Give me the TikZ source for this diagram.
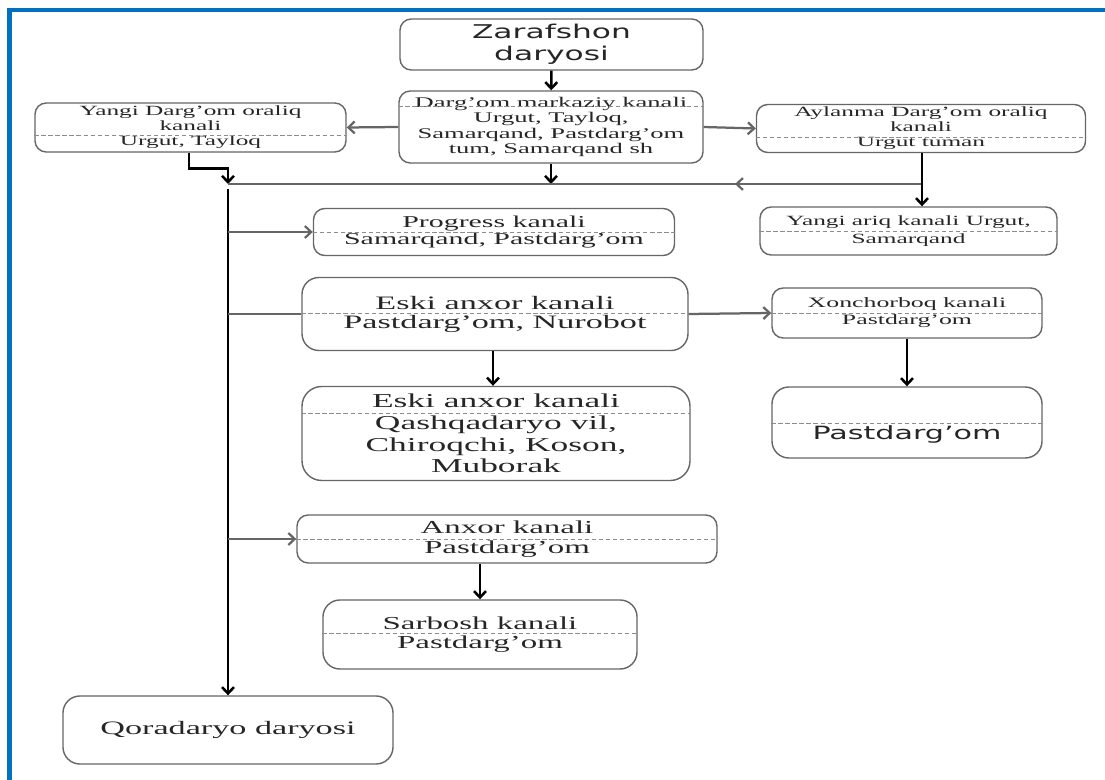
\documentclass[tikz,border=0pt]{standalone}
\usepackage{fontspec}
\setmainfont{Liberation Serif}[FakeStretch=1.8]
\newfontfamily\sansf{DejaVu Sans}[FakeStretch=1.65]
\usetikzlibrary{arrows.meta}
\definecolor{frameblue}{RGB}{0,112,192}
\tikzset{bx/.append style={draw=black!60,line width=1pt,rounded corners=8pt,align=center,text=black!85,inner sep=0pt}}
\tikzset{sz/.style 2 args={minimum width=#1*0.025cm,minimum height=#2*0.025cm}}
\tikzset{sep/.append style={draw=black!45,dashed,dash pattern=on 3pt off 2pt,line width=0.6pt}}
\tikzset{vl/.append style={draw=black,line width=1.8pt}}
\tikzset{hl/.append style={draw=black!60,line width=1.6pt}}
\tikzset{>={Straight Barb[length=4.5pt,width=8.5pt]}}

\begin{document}
\begin{tikzpicture}[x=0.025cm,y=-0.025cm]
                \useasboundingbox (0,0) rectangle (1105,780);
                \draw[frameblue,line width=3.5pt] (9.5,780) -- (9.5,10) -- (1105,10);
                % boxes
                \node[bx,sz={303}{51},font=\sansf\fontsize{13.5}{16}\selectfont] (zar) at (551.5,44.5) {Zarafshon\\daryosi};
                \node[bx,sz={304}{72},font=\fontsize{10.5}{11}\selectfont] (dmk) at (551,127) {Darg’om markaziy kanali\\Urgut, Tayloq,\\Samarqand, Pastdarg’om\\tum, Samarqand sh};
                \node[bx,sz={311}{49},font=\fontsize{10}{10.6}\selectfont] (ydo) at (190.5,127.5) {Yangi Darg’om oraliq\\kanali\\Urgut, Tayloq};
                \node[bx,sz={329}{48},font=\fontsize{10}{10.6}\selectfont] (ado) at (921,128.5) {Aylanma Darg’om oraliq\\kanali\\Urgut tuman};
                \node[bx,sz={297}{48},font=\fontsize{10}{12.8}\selectfont] (yak) at (908.5,231) {Yangi ariq kanali Urgut,\\Samarqand};
                \node[bx,sz={361}{47},font=\fontsize{11.8}{12}\selectfont] (prg) at (494,232) {Progress kanali\\Samarqand, Pastdarg’om};
                \node[bx,sz={386}{73},rounded corners=12pt,font=\fontsize{13.5}{13.5}\selectfont] (ea1) at (495,314) {Eski anxor kanali\\Pastdarg’om, Nurobot};
                \node[bx,sz={270}{50},font=\fontsize{10.2}{12}\selectfont] (xon) at (907,313) {Xonchorboq kanali\\Pastdarg’om};
                \node[bx,sz={270}{71},rounded corners=12pt,font=\sansf\fontsize{13}{16}\selectfont] (pdg) at (907,422.5) {\strut\\Pastdarg’om};
                \node[bx,sz={388}{94},rounded corners=14pt,font=\fontsize{14}{15.5}\selectfont] (ea2) at (496,433.5) {Eski anxor kanali\\Qashqadaryo vil,\\Chiroqchi, Koson,\\Muborak};
                \node[bx,sz={420}{48},font=\fontsize{13}{14}\selectfont] (anx) at (507,539) {Anxor kanali\\Pastdarg’om};
                \node[bx,sz={314}{69},rounded corners=12pt,font=\fontsize{13}{14}\selectfont] (sar) at (480,634.5) {Sarbosh kanali\\Pastdarg’om};
                \node[bx,sz={330}{68},rounded corners=12pt,font=\fontsize{13.5}{14}\selectfont] (qor) at (228,730) {Qoradaryo daryosi};
                % dashed separators
                \draw[sep] (dmk.west |- 0,106) -- (dmk.east |- 0,106);
                \draw[sep] (ydo.west |- 0,135) -- (ydo.east |- 0,135);
                \draw[sep] (ado.west |- 0,137) -- (ado.east |- 0,137);
                \draw[sep] (yak.west |- 0,231) -- (yak.east |- 0,231);
                \draw[sep] (prg.west |- 0,232) -- (prg.east |- 0,232);
                \draw[sep] (ea1.west |- 0,313) -- (ea1.east |- 0,313);
                \draw[sep] (xon.west |- 0,313) -- (xon.east |- 0,313);
                \draw[sep] (pdg.west |- 0,423) -- (pdg.east |- 0,423);
                \draw[sep] (ea2.west |- 0,413) -- (ea2.east |- 0,413);
                \draw[sep] (anx.west |- 0,539) -- (anx.east |- 0,539);
                \draw[sep] (sar.west |- 0,633) -- (sar.east |- 0,633);
                % junctions
                \coordinate (jl) at (228,184);
                \coordinate (jr) at (922,184);
                \coordinate (jm) at (735,184);
                \coordinate (vtop) at (228,189);
                % connectors
                \draw[vl,->] (zar) -- (dmk);
                \draw[hl,->] (dmk.west) -- (ydo.east);
                \draw[hl,->] (dmk.east) -- (ado.west);
                \draw[vl,->] (ydo.south -| 189,0) -- ++(0,16) -| (jl);
                \draw[vl,->] (dmk.south) -- (dmk.south |- jl);
                \draw[hl] (jr) -- (jl);
                \draw[hl,->] (jr) -- (jm);
                \draw[vl,->] (jr |- ado.south) -- (jr |- yak.north);
                \draw[vl,->] (vtop) -- (qor.north);
                \draw[hl,->] (vtop |- prg.west) -- (prg.west);
                \draw[hl] (vtop |- ea1.west) -- (ea1.west);
                \draw[hl,->] (ea1.east) -- (xon.west);
                \draw[vl,->] (ea1.south -| 493,0) -- (ea2.north -| 493,0);
                \draw[vl,->] (xon.south) -- (pdg.north);
                \draw[hl,->] (vtop |- anx.west) -- (anx.west);
                \draw[vl,->] (anx.south -| sar.north) -- (sar.north);
            \end{tikzpicture}
\end{document}
